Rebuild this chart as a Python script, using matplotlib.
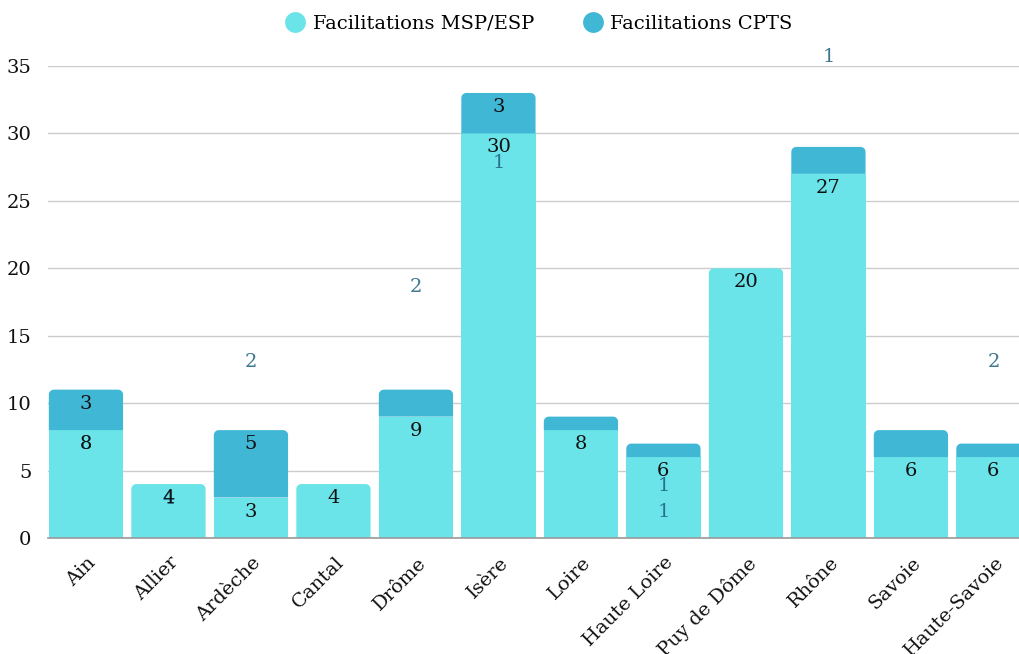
import matplotlib
matplotlib.use("Agg")
import numpy as np
import matplotlib.pyplot as plt
from matplotlib.patches import PathPatch
from matplotlib.path import Path
from matplotlib.lines import Line2D
from matplotlib.transforms import ScaledTranslation

categories = ["Ain", "Allier", "Ardèche", "Cantal", "Drôme", "Isère", "Loire",
              "Haute Loire", "Puy de Dôme", "Rhône", "Savoie", "Haute-Savoie"]
msp = [8, 4, 3, 4, 9, 30, 8, 6, 20, 27, 6, 6]
cpts = [3, 0, 5, 0, 2, 3, 1, 1, 0, 2, 2, 1]
# stray labels seen in the chart (category index, value shown, y level)
stray_idx = [0, 1, 2, 4, 5, 7, 7, 9, 11]
stray_val = [8, 4, 2, 2, 1, 1, 1, 1, 2]
stray_y = [7.0, 2.9, 13.05, 18.6, 27.8, 3.86, 1.93, 35.7, 13.05]
yticks = [0, 5, 10, 15, 20, 25, 30, 35]

C_MSP = "#6ae4e8"
C_CPTS = "#41b7d6"
C_STRAY = "#1d5f7c"
FONT = "DejaVu Serif"
FS = 14
plt.rcParams["font.family"] = [FONT]

W, H = 1019, 654
fig = plt.figure(figsize=(W / 100, H / 100), dpi=100)
ax = fig.add_axes([48 / W, (H - 538) / H, 971 / W, 472 / H])
ax.set_xlim(-0.46, 11.31)
ax.set_ylim(0, 35)

x = list(range(len(categories)))
b1 = ax.bar(x, msp, width=0.9, color=C_MSP, zorder=2, linewidth=0)
b2 = ax.bar(x, cpts, bottom=msp, width=0.9, color=C_CPTS, zorder=2, linewidth=0)

# rounded tops on the topmost segment of each stack
px_y = 35 / 472.0
px_x = (11.31 + 0.46) / 971.0
rx, ry = 5 * px_x, 5 * px_y
t = np.linspace(0, np.pi / 2, 10)
for i in x:
    top_patch = b2[i] if cpts[i] > 0 else b1[i]
    color = C_CPTS if cpts[i] > 0 else C_MSP
    x0, y0 = top_patch.get_x(), top_patch.get_y()
    w, h = top_patch.get_width(), top_patch.get_height()
    top_patch.set_visible(False)
    x1, y1 = x0 + w, y0 + h
    verts = [(x0, y0), (x1, y0)]
    verts += [(x1 - rx + rx * np.cos(a), y1 - ry + ry * np.sin(a)) for a in t]
    verts += [(x0 + rx - rx * np.cos(a), y1 - ry + ry * np.sin(a)) for a in t[::-1]]
    verts.append((x0, y0))
    codes = [Path.MOVETO] + [Path.LINETO] * (len(verts) - 2) + [Path.CLOSEPOLY]
    ax.add_patch(PathPatch(Path(verts, codes), facecolor=color, edgecolor="none", zorder=2))

# value labels near the top of each segment
for i in x:
    if msp[i] >= 3:
        ax.annotate(str(msp[i]), (i, msp[i]), xytext=(0, -14), textcoords="offset pixels",
                    ha="center", va="center", fontsize=FS, color="#111111", zorder=5)
    if cpts[i] >= 3:
        ax.annotate(str(cpts[i]), (i, msp[i] + cpts[i]), xytext=(0, -14), textcoords="offset pixels",
                    ha="center", va="center", fontsize=FS, color="#111111", zorder=5)

for i, v, yy in zip(stray_idx, stray_val, stray_y):
    ax.text(i, yy, str(v), ha="center", va="center", fontsize=FS, color=C_STRAY,
            zorder=4, clip_on=False, alpha=0.85)

ax.set_yticks(yticks)
ax.set_yticklabels([str(t_) for t_ in yticks], fontsize=FS, color="#111111")
ax.yaxis.grid(True, color="#cccccc", linewidth=1, zorder=0)
ax.set_axisbelow(True)
ax.tick_params(axis="y", length=0, pad=12)
ax.tick_params(axis="x", length=0, pad=4)
ax.set_xticks(x)
ax.set_xticklabels(categories, rotation=45, ha="right", rotation_mode="anchor",
                   fontsize=FS, color="#111111")
off = ScaledTranslation(1 / 100, -10 / 100, fig.dpi_scale_trans)
for lbl in ax.get_xticklabels():
    lbl.set_transform(lbl.get_transform() + off)

for s in ["top", "right", "left"]:
    ax.spines[s].set_visible(False)
ax.spines["bottom"].set_color("#999999")
ax.spines["bottom"].set_linewidth(1.2)

handles = [Line2D([], [], marker="o", linestyle="none", markersize=15,
                  markerfacecolor=C_MSP, markeredgecolor="none"),
           Line2D([], [], marker="o", linestyle="none", markersize=15,
                  markerfacecolor=C_CPTS, markeredgecolor="none")]
fig.legend(handles, ["Facilitations MSP/ESP", "Facilitations CPTS"], loc="center",
           bbox_to_anchor=(538 / W, 1 - 24 / H), ncol=2, frameon=False, fontsize=FS,
           handletextpad=0.3, columnspacing=2.4, handlelength=1.2)

fig.savefig("out.png", dpi=100)
